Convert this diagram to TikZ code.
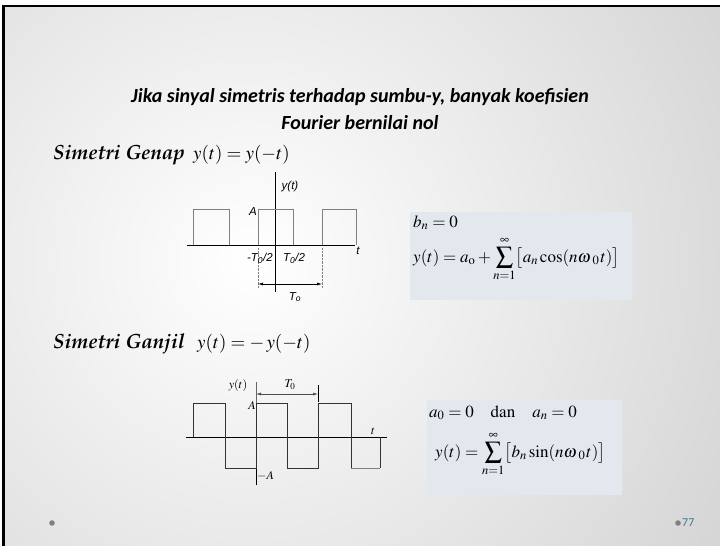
\documentclass[tikz,border=0pt]{standalone}
\usepackage[T1]{fontenc}
\usepackage[no-math]{fontspec}
\usepackage{mathptmx}
\newfontfamily\carlito{Carlito}
\newfontfamily\lsans{Liberation Sans}
\newcommand\palbi{\fontencoding{T1}\fontfamily{ppl}\fontseries{b}\fontshape{it}\selectfont}
\newcommand\omz{{\omega\mkern2mu}_{0}\mkern1mu}
\definecolor{boxfill}{HTML}{E3E7EE}
\definecolor{pagenum}{HTML}{3F7A8E}
\usetikzlibrary{arrows.meta}
\tikzset{
  titletext/.style={font=\carlito\bfseries\itshape\fontsize{20}{24}\selectfont, inner sep=0pt},
  headtext/.style={font=\palbi\fontsize{20.5}{24}\selectfont, anchor=base west, inner sep=0pt},
  mathhead/.style={font=\fontsize{19}{22}\selectfont, anchor=base west, inner sep=0pt},
  mathbig/.style={font=\fontsize{17}{21}\selectfont, anchor=base west, inner sep=0pt},
  mathmid/.style={font=\fontsize{17}{20}\selectfont, anchor=base west, inner sep=0pt},
  sanslab/.style={font=\lsans\itshape\fontsize{11.5}{13}\selectfont, inner sep=0pt},
  seriflab/.style={font=\fontsize{12}{14}\selectfont, inner sep=0pt},
  pulse/.style={draw=gray, line width=0.8pt},
  axis/.style={draw=black, line width=0.7pt},
  wave/.style={draw=black!80, line width=0.8pt},
  dimarrow/.style={{Latex[length=5pt,width=3pt]}-{Latex[length=5pt,width=3pt]}, line width=0.6pt},
  mathbox/.style={fill=boxfill, draw=none},
}
\begin{document}
\begin{tikzpicture}[x=1pt,y=-1pt]
\useasboundingbox (0,0) rectangle (720,546);
% background
\fill[white] (0,0) rectangle (720,546);
\begin{scope}
  \clip (3.7,6) rectangle (720,546);
  \shade[inner color=white, outer color=black!27] (250,260) circle (900);
\end{scope}
\draw[line width=2.6pt] (3.7,546) -- (3.7,6) -- (720,6);

% title
\node[titletext] (t1) at (360,97) {Jika sinyal simetris terhadap sumbu-y, banyak koefisien};
\node[titletext] (t2) at (360,123) {Fourier bernilai nol};

% ---------- even ----------
\node[headtext] (hg) at (53,159) {Simetri Genap};
\node[mathhead] (fg) at (193,159) {$y(t)=y(-t)$};

\draw[axis] (187,245) -- (355,245);
\draw[axis] (275,172) -- (275,292);
\draw[pulse] (193,245) -- (193,209) -- (229,209) -- (229,245);
\draw[pulse] (258,245) -- (258,209) -- (293,209) -- (293,245);
\draw[pulse] (322,245) -- (322,209) -- (356,209) -- (356,245);
\coordinate (el) at (258,284);
\coordinate (er) at (322,284);
\draw[densely dotted, gray] (258,248) -- (258,288);
\draw[densely dotted, gray] (322,248) -- (322,288);
\draw[dimarrow] (el) -- (er);
\node[sanslab] (ey) at (290,187) {y(t)};
\node[sanslab, anchor=east] (eA) at (257,212) {A};
\node[sanslab, anchor=east] (em) at (273,258) {-T\textsubscript{0}/2};
\node[sanslab, anchor=west] (ep) at (283,258) {T\textsubscript{0}/2};
\node[sanslab] (et) at (358,251) {t};
\node[sanslab] (eT) at (295,297) {T\textsubscript{o}};

% box 1
\fill[mathbox] (410,212) rectangle (632,300);
\node[mathbig] (b1) at (413,227) {$b_n=0$};
\node[mathbig] (b2) at (413,262) {$\displaystyle y(t)=a_{\mathrm{o}}+\sum_{n=1}^{\infty}\bigl[a_n\cos(n\omz t)\bigr]$};

% ---------- odd ----------
\node[headtext] (hj) at (53,348) {Simetri Ganjil};
\node[mathhead] (fj) at (197,348) {$y(t)=-\,y(-t)$};

\draw[axis] (186,437) -- (387,437);
\draw[axis, draw=black!60] (256,382) -- (256,403);
\draw[axis] (256,403) -- (256,485);
\draw[wave] (193,437) -- (193,403) -- (225,403) -- (225,468) -- (256,468) -- (256,403)
  -- (287,403) -- (287,468) -- (318,468) -- (318,403) -- (351,403) -- (351,468);
\draw[wave, draw=gray] (351,468) -- (380,468);
\draw[wave] (380,468) -- (380,437);
\coordinate (ol) at (256,394);
\coordinate (or) at (318,394);
\draw[dimarrow, draw=black!70] (ol) -- (or);
\draw[line width=0.8pt] (318,385) -- (318,402);
\node[seriflab] (oy) at (238,385) {$y(t)$};
\node[seriflab] (oT) at (290,385) {$T_0$};
\node[seriflab, anchor=east] (oA) at (256,405) {$A$};
\node[seriflab] (ot) at (373,431) {$t$};
\node[seriflab, anchor=west] (omA) at (257,476) {$-A$};

% box 2
\fill[mathbox] (427,400) rectangle (622,495);
\node[mathmid] (c1) at (429,417) {$a_0=0\quad\mathrm{dan}\quad a_n=0$};
\node[mathmid] (c2) at (435,457) {$\displaystyle y(t)=\sum_{n=1}^{\infty}\bigl[b_n\sin(n\omz t)\bigr]$};

% footer
\fill[gray] (52,523) circle (2.8);
\fill[gray] (678,523) circle (2.8);
\node[font=\carlito\fontsize{12}{14}\selectfont, text=pagenum, anchor=west, inner sep=0pt] (pn) at (682,523) {77};
\end{tikzpicture}
\end{document}
